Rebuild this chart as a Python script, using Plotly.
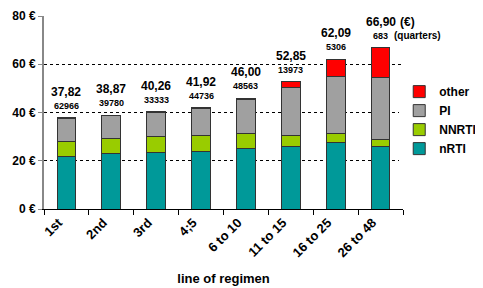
import plotly.graph_objects as go

categories = ["1st", "2nd", "3rd", "4;5", "6 to 10", "11 to 15", "16 to 25", "26 to 48"]
nrti = [21.8, 22.9, 23.3, 23.75, 24.9, 25.8, 27.6, 25.8]
nnrti = [6.0, 6.5, 6.7, 6.55, 6.35, 4.5, 3.8, 2.95]
pi = [9.8, 9.35, 10.0, 11.3, 14.15, 20.1, 23.6, 25.65]
other = [0.22, 0.12, 0.26, 0.32, 0.6, 2.45, 7.09, 12.5]
totals = [37.82, 38.87, 40.26, 41.92, 46.00, 52.85, 62.09, 66.90]
total_labels = ["37,82", "38,87", "40,26", "41,92", "46,00", "52,85", "62,09", "66,90"]
counts = ["62966", "39780", "33333", "44736", "48563", "13973", "5306", "683"]
ytick_vals = [0, 20, 40, 60, 80]
ytick_text = ["0 €", "20 €", "40 €", "60 €", "80 €"]

FONT = "Liberation Sans, Arial, sans-serif"

fig = go.Figure()
series = [("nRTI", nrti, "#009999"), ("NNRTI", nnrti, "#99cc00"),
          ("PI", pi, "#a0a0a0"), ("other", other, "#ff0000")]
for name, vals, col in series:
    fig.add_trace(go.Bar(x=categories, y=vals, name="<b>%s</b>" % name,
                         marker=dict(color=col, line=dict(color="#333333", width=1)),
                         width=0.42))

for c, t, lab, n in zip(categories, totals, total_labels, counts):
    fig.add_annotation(x=c, y=t, text="<b>%s</b>" % lab, showarrow=False,
                       yshift=26, font=dict(family=FONT, size=12, color="black"))
    fig.add_annotation(x=c, y=t, text="<b>%s</b>" % n, showarrow=False,
                       yshift=12, font=dict(family=FONT, size=9, color="black"))

fig.add_annotation(x=categories[-1], y=totals[-1], text="<b>(€)</b>", showarrow=False,
                   xanchor="left", xshift=17, yshift=26,
                   font=dict(family=FONT, size=12, color="black"))
fig.add_annotation(x=categories[-1], y=totals[-1], text="<b>(quarters)</b>", showarrow=False,
                   xanchor="left", xshift=11, yshift=12,
                   font=dict(family=FONT, size=10, color="black"))

fig.update_layout(
    barmode="stack",
    width=483, height=288,
    margin=dict(l=36, r=88, t=8, b=87, autoexpand=False),
    paper_bgcolor="white", plot_bgcolor="white",
    font=dict(family=FONT, color="black"),
    showlegend=True,
    legend=dict(xref="container", yref="container", x=0.81, y=0.76,
                xanchor="left", yanchor="top",
                traceorder="reversed", itemwidth=30, tracegroupgap=0,
                font=dict(family=FONT, size=12, color="black")),
)
fig.update_xaxes(
    range=[-0.5, 7.5], automargin=False,
    showline=True, linecolor="black", linewidth=1,
    ticks="outside", tickson="boundaries", ticklen=5, tickcolor="black",
    tickangle=-45, tickfont=dict(family=FONT, size=13, color="black"),
    tickprefix="<b>", ticksuffix="</b>", ticklabelshift=-8,
    title=dict(text="<b>line of regimen</b>", font=dict(family=FONT, size=13), standoff=14),
)
fig.update_yaxes(
    range=[0, 80], automargin=False,
    tickvals=ytick_vals, ticktext=[f"<b>{t}</b>" for t in ytick_text],
    showline=True, linecolor="#888888", linewidth=2,
    ticks="outside", ticklen=4, tickcolor="#888888",
    showgrid=True, gridcolor="black", griddash="dot", gridwidth=1,
    zeroline=False,
    tickfont=dict(family=FONT, size=12, color="black"),
)

fig.write_html("out.html")
